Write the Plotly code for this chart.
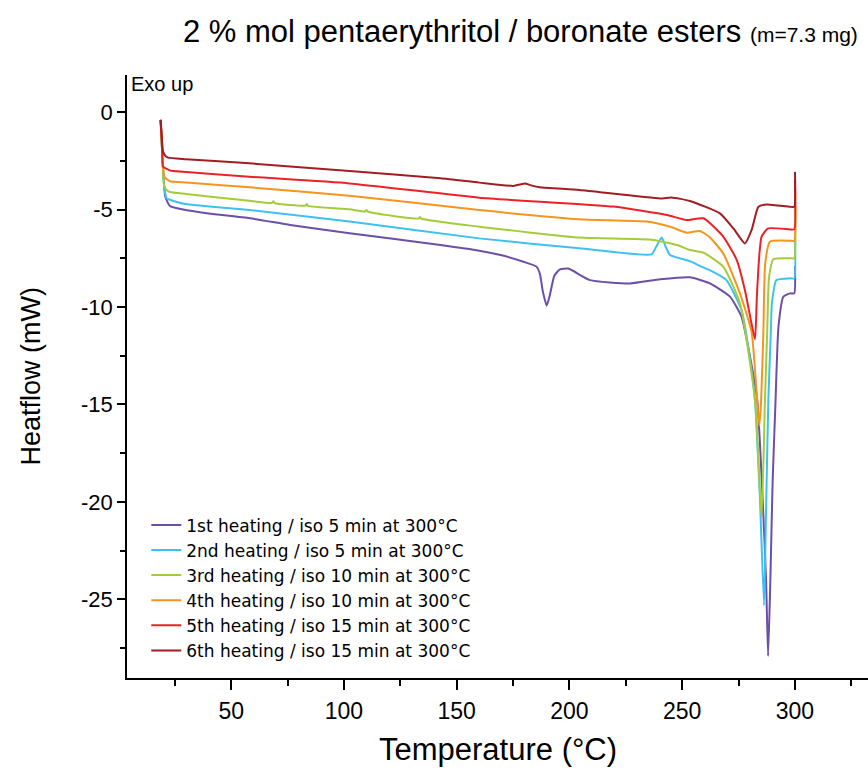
import plotly.graph_objects as go

# ---------------- data ----------------
labels = [
    "1st heating / iso 5 min at 300°C",
    "2nd heating / iso 5 min at 300°C",
    "3rd heating / iso 10 min at 300°C",
    "4th heating / iso 10 min at 300°C",
    "5th heating / iso 15 min at 300°C",
    "6th heating / iso 15 min at 300°C",
]
colors = ["#6B4FA8", "#3EC1F0", "#A4CC3A", "#F7941D", "#EC2227", "#A11D21"]

t1 = [18.7, 19.3, 19.9, 20.8, 22.8, 28.7, 40, 58.3, 76.2, 102.5, 142.8, 160.0, 170, 179.6,
      185.4, 186.9, 188.2, 189.9, 191.3, 193.3, 195.8, 199.5, 209.1, 226.9, 240.2, 253.4,
      262.3, 271.2, 276.3, 279.5, 283.3, 285.7, 287.2, 288.1, 289.1, 290.1, 291.4, 292.7,
      294.9, 297.8, 299.7, 300.0]
h1 = [-0.4, -1.8, -3.2, -4.34, -4.82, -5.0, -5.2, -5.45, -5.79, -6.22, -6.82, -7.11, -7.35, -7.68,
      -7.93, -8.3, -9.2, -9.93, -9.4, -8.4, -8.07, -8.03, -8.62, -8.79, -8.58, -8.48,
      -8.79, -9.47, -10.5, -12.2, -14.8, -19.9, -24.0, -27.9, -24.0, -19.0, -14.8, -11.0,
      -9.47, -9.3, -9.3, -7.9]

t2 = [18.7, 19.3, 19.9, 20.5, 21.4, 22.8, 28.8, 58.1, 102.5, 160.0, 204.4, 236.4, 238.5,
      240.9, 242.8, 244.6, 253.4, 258.0, 262.0, 269.6, 276.3, 279.5, 282.3, 284.5, 286.3,
      287.1, 288.2, 289.3, 289.8, 291.8, 297.8, 299.7, 300.0]
h2 = [-0.4, -1.8, -3.2, -4.0, -4.44, -4.5, -4.7, -5.03, -5.62, -6.48, -6.99, -7.30, -6.9,
      -6.44, -6.95, -7.33, -7.65, -7.9, -8.1, -8.62, -10.15, -12.2, -14.8, -19.9, -25.3,
      -21.0, -14.8, -11.3, -9.8, -8.62, -8.53, -8.53, -6.4]

t3 = [18.7, 19.3, 20.3, 21.4, 22.8, 30, 58.1, 68.1, 68.7, 69.3, 83.0, 83.5, 84.1, 102.5,
      109.5, 110.0, 110.6, 133.2, 133.7, 134.3, 160.0, 204.4, 237.2, 249.0, 253.4, 259.4,
      268.2, 275.6, 282.3, 285.2, 286.7, 287.7, 288.5, 290.4, 297.8, 299.7, 300.0]
h3 = [-0.4, -1.8, -3.8, -4.0, -4.1, -4.2, -4.55, -4.66, -4.58, -4.67, -4.80, -4.72, -4.81, -4.99,
      -5.10, -5.02, -5.11, -5.46, -5.38, -5.47, -5.88, -6.44, -6.56, -6.87, -7.08, -7.21,
      -7.93, -9.81, -14.8, -20.8, -14.8, -11.3, -8.5, -7.55, -7.5, -7.5, -4.7]

t4 = [18.7, 19.3, 20.3, 21.4, 22.8, 30, 58.1, 102.5, 160.0, 204.4, 234.2, 245.0, 252.0,
      257.8, 262.0, 268.2, 275.6, 280.8, 284.2, 285.0, 286.0, 286.8, 288.9, 297.8, 299.7, 300.0]
h4 = [-0.4, -1.8, -3.3, -3.45, -3.55, -3.62, -3.86, -4.29, -5.03, -5.50, -5.62, -5.9, -6.19,
      -6.1, -6.4, -7.25, -9.3, -11.3, -16.1, -14.8, -11.3, -7.8, -6.65, -6.6, -6.6, -4.0]

t5 = [18.7, 19.3, 19.8, 21.4, 22.8, 30, 58.1, 102.5, 160.0, 219.5, 243.2, 252.0, 259.4,
      268.2, 274.2, 277.8, 280.5, 282.3, 283.1, 284.3, 285.2, 288.1, 297.8, 299.7, 300.0]
h5 = [-0.4, -1.6, -2.8, -2.92, -3.0, -3.08, -3.32, -3.66, -4.39, -4.85, -5.28, -5.54, -5.45,
      -6.39, -7.59, -9.13, -10.7, -11.66, -9.5, -7.2, -6.39, -5.97, -6.02, -6.02, -3.5]

t6 = [18.7, 19.3, 19.8, 20.8, 22.0, 30, 58.1, 102.5, 142.8, 160.0, 175.1, 178.0, 180.2,
      183.0, 186.9, 204.4, 240.2, 245.3, 253.4, 266.7, 272.7, 277.8, 280.8, 283.8, 287.5,
      297.8, 299.7, 300.0]
h6 = [-0.4, -1.4, -2.03, -2.25, -2.34, -2.42, -2.63, -3.03, -3.40, -3.62, -3.79, -3.72, -3.66,
      -3.76, -3.86, -4.0, -4.43, -4.38, -4.56, -5.2, -5.97, -6.74, -6.05, -4.86, -4.74,
      -4.86, -4.86, -3.07]

temps = [t1, t2, t3, t4, t5, t6]
flows = [h1, h2, h3, h4, h5, h6]

x_ticks = [50, 100, 150, 200, 250, 300]
x_minor = [25, 75, 125, 175, 225, 275, 325]
y_ticks = [0, -5, -10, -15, -20, -25]
y_ticktext = ["0", "-5", "-10", "-15", "-20", "-25"]
y_minor = [-2.5, -7.5, -12.5, -17.5, -22.5, -27.5]

FONT = "Liberation Sans, Arial, sans-serif"
LEG_FONT = "DejaVu Sans, Liberation Sans, sans-serif"

fig = go.Figure()
for t, h, name, c in zip(temps, flows, labels, colors):
    fig.add_trace(go.Scatter(x=t, y=h, mode="lines", name=name,
                             line=dict(color=c, width=2, shape="spline", smoothing=0.5)))

fig.update_layout(
    width=868, height=771,
    margin=dict(l=127, r=0, t=75, b=93),
    paper_bgcolor="white", plot_bgcolor="white",
    font=dict(family=FONT, color="black"),
    title=dict(
        text="2 % mol pentaerythritol / boronate esters <span style='font-size:21px'>(m=7.3 mg)</span>",
        x=183 / 868, xanchor="left", xref="container",
        y=1 - 31 / 771, yanchor="middle", yref="container",
        font=dict(family=FONT, size=31, color="black"),
    ),
    legend=dict(x=0.026, y=0.283, xanchor="left", yanchor="top",
                font=dict(family=LEG_FONT, size=17, color="black"),
                bgcolor="rgba(0,0,0,0)", tracegroupgap=0),
    xaxis=dict(
        range=[3.8, 332.4], tickvals=x_ticks, ticks="outside", ticklen=10, tickwidth=1.5,
        tickcolor="black", showline=True, linewidth=1.5, linecolor="black",
        showgrid=False, zeroline=False, tickfont=dict(size=23),
        ticklabelstandoff=2, automargin=False,
        minor=dict(tickvals=x_minor, ticks="outside", ticklen=6, tickwidth=1.5, tickcolor="black"),
    ),
    yaxis=dict(
        range=[-29.03, 1.9], tickvals=y_ticks, ticktext=y_ticktext, ticks="outside",
        ticklen=8, tickwidth=1.5, tickcolor="black", showline=True, linewidth=1.5,
        linecolor="black", showgrid=False, zeroline=False, tickfont=dict(size=22),
        ticklabelstandoff=0, automargin=False,
        minor=dict(tickvals=y_minor, ticks="outside", ticklen=5, tickwidth=1.5, tickcolor="black"),
    ),
    annotations=[
        dict(text="Exo up", xref="paper", yref="paper", x=0, y=1.0,
             xanchor="left", yanchor="top", xshift=2, yshift=4, showarrow=False,
             font=dict(family=FONT, size=20, color="black")),
        dict(text="Temperature (°C)", xref="paper", yref="paper", x=0.5, y=(678 - 750) / 603,
             xanchor="center", yanchor="middle", showarrow=False,
             font=dict(family=FONT, size=31, color="black")),
        dict(text="Heatflow (mW)", xref="paper", yref="paper", x=(30 - 127) / 741, y=0.5,
             xanchor="center", yanchor="middle", textangle=-90, showarrow=False,
             font=dict(family=FONT, size=27, color="black")),
    ],
)

fig.write_html("out.html", config={"displayModeBar": False},
               post_script="document.body.style.margin='0px';document.body.style.overflow='hidden';")
